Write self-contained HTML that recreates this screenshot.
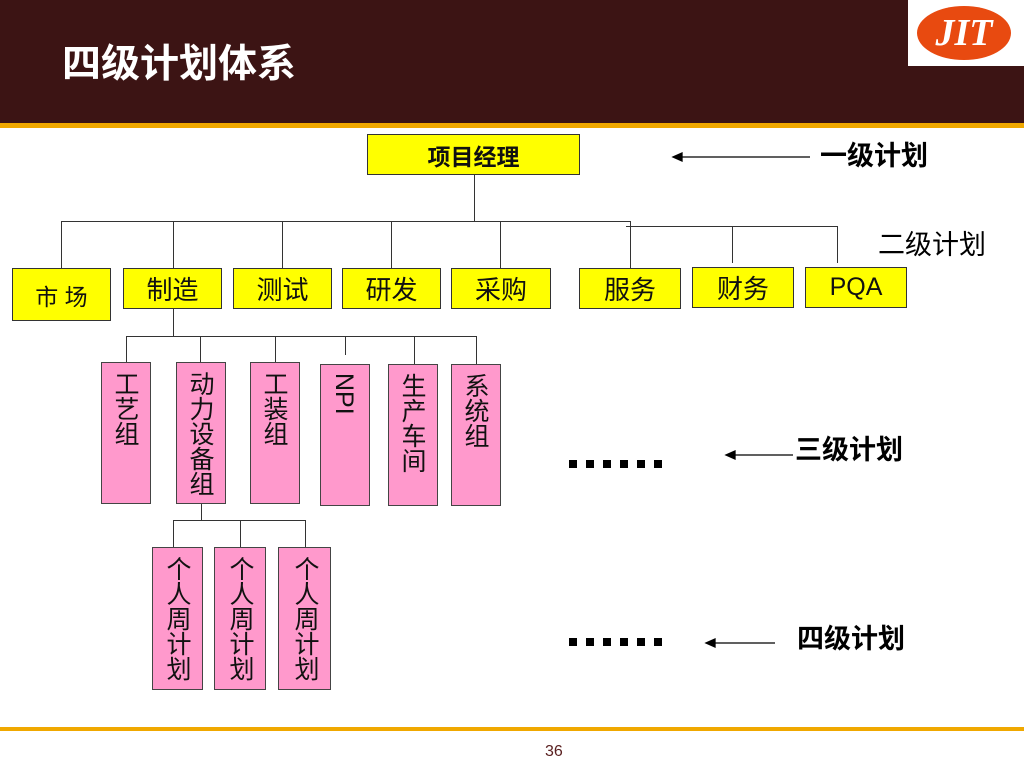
<!DOCTYPE html>
<html><head><meta charset="utf-8"><style>
body{margin:0;width:1024px;height:768px;position:relative;background:#fff;overflow:hidden;font-family:"Liberation Sans","Noto Sans CJK SC",sans-serif}
.a{position:absolute}
.y{position:absolute;background:#ffff00;border:1px solid #333;box-sizing:border-box;display:flex;align-items:center;justify-content:center;font-size:26px;color:#111}
.p{position:absolute;background:#ff99cc;border:1px solid #444;box-sizing:border-box;writing-mode:vertical-rl;font-size:25px;line-height:50px;padding-top:8px;text-align:start;color:#111}
.h{position:absolute;height:1px;background:#333}
.v{position:absolute;width:1px;background:#333}
.d{position:absolute;width:8px;height:8px;background:#000}
.lbl{position:absolute;font-size:27px;color:#000;font-weight:bold;line-height:1}
</style></head><body>
<div class="a" style="left:0;top:0;width:1024px;height:123px;background:#3c1414"></div>
<div class="a" style="left:0;top:123px;width:1024px;height:5px;background:#f0a800"></div>
<div class="a" style="left:62px;top:44px;color:#fff;font-size:39px;font-weight:bold;line-height:1.1">四级计划体系</div>
<div class="a" style="left:908px;top:0;width:116px;height:66px;background:#fff"></div>
<div class="a" style="left:917px;top:6px;width:94px;height:54px;border-radius:50%;background:#e84a10;color:#fff;font-family:'Liberation Serif',serif;font-style:italic;font-weight:bold;font-size:38px;text-align:center;line-height:54px">JIT</div>

<div class="y" style="left:367px;top:134px;width:213px;height:41px;font-weight:bold;font-size:23px">项目经理</div>
<div class="v" style="left:474px;top:175px;height:46px"></div>
<div class="h" style="left:61px;top:221px;width:570px"></div>
<div class="h" style="left:626px;top:226px;width:212px"></div>
<div class="v" style="left:61px;top:221px;height:47px"></div>
<div class="v" style="left:173px;top:221px;height:47px"></div>
<div class="v" style="left:282px;top:221px;height:47px"></div>
<div class="v" style="left:391px;top:221px;height:47px"></div>
<div class="v" style="left:500px;top:221px;height:47px"></div>
<div class="v" style="left:630px;top:221px;height:47px"></div>
<div class="v" style="left:732px;top:226px;height:37px"></div>
<div class="v" style="left:837px;top:226px;height:37px"></div>

<div class="y" style="left:12px;top:268px;width:99px;height:53px;font-size:23px">市 场</div>
<div class="y" style="left:123px;top:268px;width:99px;height:41px">制造</div>
<div class="y" style="left:233px;top:268px;width:99px;height:41px">测试</div>
<div class="y" style="left:342px;top:268px;width:99px;height:41px">研发</div>
<div class="y" style="left:451px;top:268px;width:100px;height:41px">采购</div>
<div class="y" style="left:579px;top:268px;width:102px;height:41px">服务</div>
<div class="y" style="left:692px;top:267px;width:102px;height:41px">财务</div>
<div class="y" style="left:805px;top:267px;width:102px;height:41px;font-size:25px">PQA</div>

<div class="v" style="left:173px;top:309px;height:27px"></div>
<div class="h" style="left:126px;top:336px;width:351px"></div>
<div class="v" style="left:126px;top:336px;height:26px"></div>
<div class="v" style="left:200px;top:336px;height:26px"></div>
<div class="v" style="left:275px;top:336px;height:26px"></div>
<div class="v" style="left:345px;top:336px;height:19px"></div>
<div class="v" style="left:414px;top:336px;height:28px"></div>
<div class="v" style="left:476px;top:336px;height:28px"></div>

<div class="p" style="left:101px;top:362px;width:50px;height:142px">工艺组</div>
<div class="p" style="left:176px;top:362px;width:50px;height:142px">动力设备组</div>
<div class="p" style="left:250px;top:362px;width:50px;height:142px">工装组</div>
<div class="p" style="left:320px;top:364px;width:50px;height:142px">NPI</div>
<div class="p" style="left:388px;top:364px;width:50px;height:142px">生产车间</div>
<div class="p" style="left:451px;top:364px;width:50px;height:142px">系统组</div>

<div class="v" style="left:201px;top:504px;height:16px"></div>
<div class="h" style="left:173px;top:520px;width:133px"></div>
<div class="v" style="left:173px;top:520px;height:27px"></div>
<div class="v" style="left:240px;top:520px;height:27px"></div>
<div class="v" style="left:305px;top:520px;height:27px"></div>
<div class="p" style="left:152px;top:547px;width:51px;height:143px">个人周计划</div>
<div class="p" style="left:214px;top:547px;width:52px;height:143px">个人周计划</div>
<div class="p" style="left:278px;top:547px;width:53px;height:143px">个人周计划</div>

<div class="d" style="left:569px;top:460px"></div><div class="d" style="left:586px;top:460px"></div><div class="d" style="left:603px;top:460px"></div><div class="d" style="left:620px;top:460px"></div><div class="d" style="left:637px;top:460px"></div><div class="d" style="left:654px;top:460px"></div>
<div class="d" style="left:569px;top:638px"></div><div class="d" style="left:586px;top:638px"></div><div class="d" style="left:603px;top:638px"></div><div class="d" style="left:620px;top:638px"></div><div class="d" style="left:637px;top:638px"></div><div class="d" style="left:654px;top:638px"></div>

<svg class="a" style="left:0;top:0" width="1024" height="768">
<g stroke="#000" stroke-width="1.3" fill="#000">
<line x1="678" y1="157" x2="810" y2="157"/><path d="M673 157 L682 153 L682 161Z"/>
<line x1="731" y1="455" x2="793" y2="455"/><path d="M726 455 L735 451 L735 459Z"/>
<line x1="711" y1="643" x2="775" y2="643"/><path d="M706 643 L715 639 L715 647Z"/>
</g></svg>
<div class="lbl" style="left:820px;top:143px">一级计划</div>
<div class="lbl" style="left:878px;top:232px;font-weight:normal">二级计划</div>
<div class="lbl" style="left:795px;top:437px">三级计划</div>
<div class="lbl" style="left:797px;top:626px">四级计划</div>

<div class="a" style="left:0;top:727px;width:1024px;height:4px;background:#f0a800"></div>
<div class="a" style="left:545px;top:743px;font-size:16px;color:#5a2020">36</div>
</body></html>
